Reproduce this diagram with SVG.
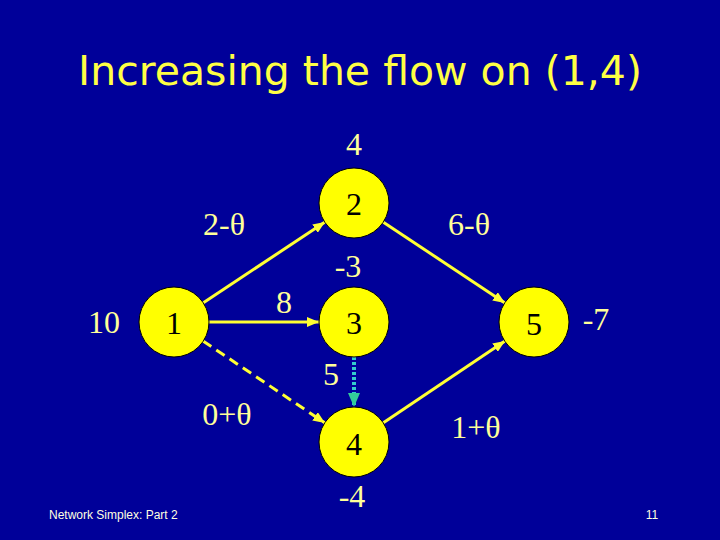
<svg xmlns="http://www.w3.org/2000/svg" width="720" height="540" viewBox="0 0 720 540">
<defs>
<style>
.node circle{fill:#FFFF00;stroke:#000;stroke-width:1}
.node text{font-family:"Liberation Serif",serif;font-size:32px;fill:#000;text-anchor:middle}
.lbl{font-family:"Liberation Serif",serif;font-size:32px;fill:#FFFF99;text-anchor:middle}
.edge{stroke:#FFFF33;stroke-width:3;fill:none}
.title{font-family:"Comic Sans MS","DejaVu Sans",sans-serif;font-size:41px;fill:#FFFF44;text-anchor:middle}
.foot{font-family:"Liberation Sans",Arial,sans-serif;font-size:12px;fill:#FFFFE0}
</style>
<marker id="ay" viewBox="0 0 12 10" refX="12" refY="5" markerWidth="12" markerHeight="10" markerUnits="userSpaceOnUse" orient="auto">
<path d="M0,0 L12,5 L0,10 Z" fill="#FFFF33"/>
</marker>
<marker id="ac" viewBox="0 0 14 12" refX="14" refY="6" markerWidth="14" markerHeight="12" markerUnits="userSpaceOnUse" orient="auto">
<path d="M0,0 L14,6 L0,12 Z" fill="#33CC99"/>
</marker>
</defs>
<rect width="720" height="540" fill="#000099"/>
<text class="title" x="360" y="85">Increasing the flow on (1,4)</text>
<g id="connectors">
<line class="edge" x1="203" y1="303" x2="325" y2="222" marker-end="url(#ay)"/>
<line class="edge" x1="209" y1="322" x2="319" y2="322" marker-end="url(#ay)"/>
<line class="edge" x1="203" y1="341" x2="325" y2="423" stroke-dasharray="10 6" marker-end="url(#ay)"/>
<line class="edge" x1="383" y1="222" x2="505" y2="303" marker-end="url(#ay)"/>
<line class="edge" x1="383" y1="423" x2="505" y2="341" marker-end="url(#ay)"/>
<line x1="354" y1="357" x2="354" y2="407" stroke="#33CCCC" stroke-width="4" stroke-dasharray="3 2" marker-end="url(#ac)"/>
</g>
<g id="n1" class="node"><circle cx="174" cy="322" r="35"/><text x="174" y="334">1</text></g>
<g id="n2" class="node"><circle cx="354" cy="203" r="35"/><text x="354" y="215">2</text></g>
<g id="n3" class="node"><circle cx="354" cy="322" r="35"/><text x="354" y="334">3</text></g>
<g id="n4" class="node"><circle cx="354" cy="442" r="35"/><text x="354" y="455">4</text></g>
<g id="n5" class="node"><circle cx="534" cy="322" r="35"/><text x="534" y="335">5</text></g>
<g id="labels">
<text class="lbl" x="354" y="155">4</text>
<text class="lbl" x="348" y="277">-3</text>
<text class="lbl" x="104" y="333">10</text>
<text class="lbl" x="596" y="330">-7</text>
<text class="lbl" x="352" y="507">-4</text>
<text class="lbl" x="224" y="235">2-θ</text>
<text class="lbl" x="284" y="313">8</text>
<text class="lbl" x="331" y="385">5</text>
<text class="lbl" x="227" y="425">0+θ</text>
<text class="lbl" x="469" y="235">6-θ</text>
<text class="lbl" x="476" y="438">1+θ</text>
</g>
<text class="foot" x="49" y="519">Network Simplex: Part 2</text>
<text class="foot" x="652" y="519" text-anchor="middle">11</text>
</svg>
